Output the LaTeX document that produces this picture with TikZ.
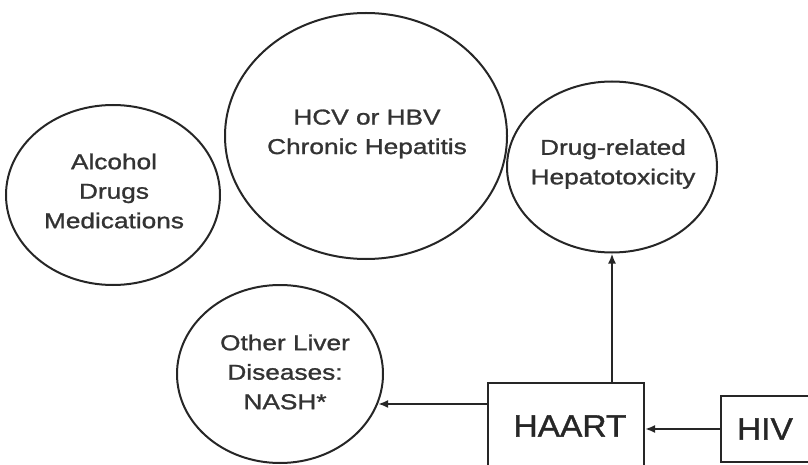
\documentclass[tikz,border=0pt]{standalone}
\usepackage{fontspec}
\setmainfont{Liberation Sans}
\newfontfamily\ellfont[FakeStretch=1.22,FakeBold=1.2]{Liberation Sans}
\newfontfamily\boxfont[FakeStretch=1.08,FakeBold=1.2]{Liberation Sans}
\usetikzlibrary{shapes.geometric,arrows.meta}
\begin{document}
\begin{tikzpicture}[x=1pt,y=-1pt,
  ln/.style={line width=2pt,draw=black!85},
  ell/.style={ln,ellipse,inner sep=0pt},
  txt/.style={align=center,text=black!80,inner sep=0pt,
    font=\ellfont\fontsize{21.5}{29.5}\selectfont},
  bx/.style={ln,rectangle,inner sep=0pt,text=black!85,
    font=\boxfont\fontsize{31}{36}\selectfont},
  arr/.style={ln,-{Latex[length=10pt,width=8pt]}}]
\useasboundingbox (0,0) rectangle (808,465);
\clip (0,0) rectangle (808,465);
\node[ell,minimum width=214pt,minimum height=180pt] (alc) at (113,195) {};
\node[txt] (alct) at (114,191) {Alcohol\\Drugs\\Medications};
\node[ell,minimum width=282pt,minimum height=246pt] (hcv) at (366,136) {};
\node[txt] (hcvt) at (367,134) {HCV or HBV\\Chronic Hepatitis};
\node[ell,minimum width=210pt,minimum height=171pt] (drug) at (612,167) {};
\node[txt] (drugt) at (613,164) {Drug-related\\Hepatotoxicity};
\node[ell,minimum width=206pt,minimum height=178pt] (oth) at (280,374) {};
\node[txt] (otht) at (285,372) {Other Liver\\Diseases:\\NASH*};
\node[bx,minimum width=156pt,minimum height=86pt] (haart) at (566,426) {\hspace*{8pt}HAART};
\node[bx,minimum width=88pt,minimum height=66pt] (hiv) at (765,429) {HIV};
\draw[arr] (hiv.west) -- (hiv.west -| haart.east);
\draw[arr] (drug.south |- haart.north) -- (drug.south);
\draw[arr] (oth.-17 -| haart.west) -- (oth.-17);
\end{tikzpicture}
\end{document}
